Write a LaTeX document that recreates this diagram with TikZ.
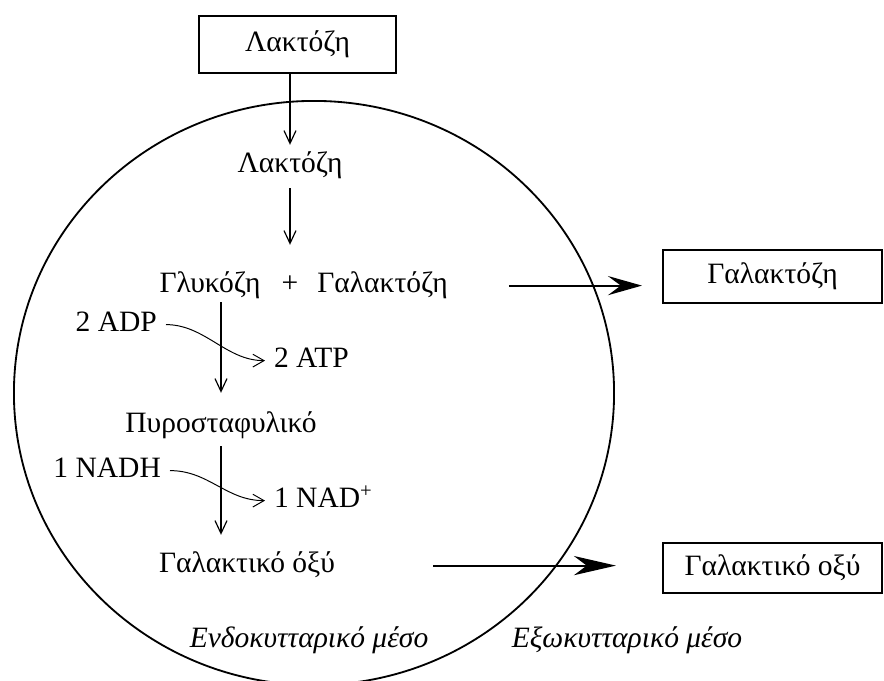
\documentclass[tikz,border=0pt]{standalone}
\usepackage{fontspec}
\setmainfont{Liberation Serif}
\usetikzlibrary{arrows.meta,positioning}

\begin{document}
\begin{tikzpicture}[
x=0.025cm,y=-0.025cm,
chem/.style={font=\fontsize{21}{24}\selectfont, inner sep=2pt, text height=15pt, text depth=4.5pt},
pool/.style={chem, draw, line width=1.3pt, anchor=center},
flow/.style={-{Straight Barb[length=3.2mm,width=3mm]}, line width=0.85pt},
side/.style={-{Straight Barb[length=2.8mm,width=3.2mm]}, line width=0.7pt},
export/.style={-{Stealth[length=#1,width=4.8mm,inset=3.2mm]}, line width=1.4pt},
export/.default=8.5mm,
cell/.style={draw, line width=1.3pt},
region/.style={chem, font=\fontsize{21}{24}\selectfont\itshape}
]
\useasboundingbox (0,0) rectangle (884,681);
\clip (0,0) rectangle (884,681);

% the cell
\draw[cell] (314,393) ellipse [x radius=7.5cm, y radius=7.3cm];

% outside
\node[pool, minimum width=4.93cm, minimum height=1.43cm] (lacext) at (297.5,44.5) {Λακτόζη};
\node[pool, minimum width=5.48cm, minimum height=1.33cm] (galext) at (772.5,276.5) {Γαλακτόζη};
\node[pool, minimum width=5.48cm, minimum height=1.25cm] (lactext) at (772.5,568) {Γαλακτικό οξύ};

% inside
\node[chem, anchor=base] (lacin) at (290,173) {Λακτόζη};
\node[chem, anchor=base] (gluc) at (210,293) {Γλυκόζη};
\node[chem, anchor=base] (plus) at (290,293) {+};
\node[chem, anchor=base] (galin) at (382.5,293) {Γαλακτόζη};
\node[chem, anchor=base] (pyr) at (221,433) {Πυροσταφυλικό};
\node[chem, anchor=base] (lactin) at (247,573) {Γαλακτικό όξύ};
\node[chem, anchor=base east] (adp) at (160,332) {2 ADP};
\node[chem, anchor=base west] (atp) at (271,368) {2 ATP};
\node[chem, anchor=base east] (nadh) at (164,478) {1 NADH};
\node[chem, anchor=base west] (nad) at (271,508) {1 NAD\textsuperscript{+}};

\node[region, anchor=base] (intra) at (309,648) {Ενδοκυτταρικό μέσο};
\node[region, anchor=base] (extra) at (627,648) {Εξωκυτταρικό μέσο};

% pathway
\draw[flow, shorten >=0.1cm] (lacin.north |- lacext.south) -- (lacin.north);
\draw[flow, shorten <=0.14cm, shorten >=0.6cm] (lacin.south) -- (lacin.south |- plus.north);
\draw[flow, shorten >=0.4cm] (pyr.north |- gluc.south) -- (pyr.north);
\draw[flow, shorten <=0.1cm, shorten >=0.35cm] (pyr.south) -- (pyr.south |- lactin.north);

\draw[side, shorten <=0.15cm, shorten >=0.15cm] (adp.east) .. controls +(45,0) and +(-45,0) .. (atp.west);
\draw[side, shorten <=0.15cm, shorten >=0.15cm] (nadh.east) .. controls +(45,0) and +(-45,0) .. (nad.west);

% export
\draw[export, shorten <=1.45cm, shorten >=0.5cm] (galin.east) -- (galin.east -| galext.west);
\draw[export=10.5mm, shorten <=2.38cm, shorten >=1.15cm] (lactin.east) -- (lactin.east -| lactext.west);
\end{tikzpicture}
\end{document}
